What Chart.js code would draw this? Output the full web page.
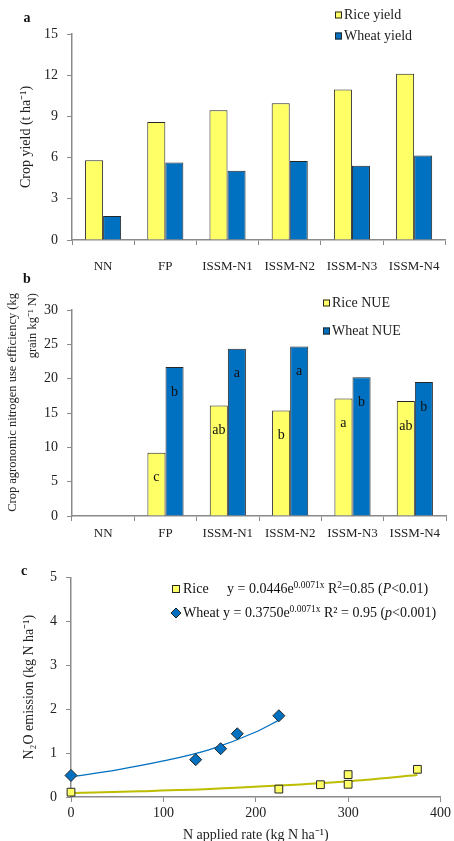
<!DOCTYPE html>
<html>
<head>
<meta charset="utf-8">
<script src="https://cdn.jsdelivr.net/npm/chart.js@4.4.0/dist/chart.umd.min.js"></script>
<style>
  body { margin: 0; background: #fff; width: 454px; height: 841px; position: relative; overflow: hidden; }
  .panel { position: absolute; left: 0; width: 454px; }
</style>
</head>
<body>
<div class="panel" style="top:0;height:280px"><canvas id="yieldChart"></canvas></div>
<div class="panel" style="top:266px;height:294px"><canvas id="nueChart"></canvas></div>
<div class="panel" style="top:560px;height:284px"><canvas id="n2oChart"></canvas></div>
<script>
const treatments = ["NN", "FP", "ISSM-N1", "ISSM-N2", "ISSM-N3", "ISSM-N4"];
const riceYield = [5.8, 8.6, 9.45, 9.95, 10.95, 12.1];
const wheatYield = [1.75, 5.65, 5.05, 5.75, 5.4, 6.15];
const riceNue = [null, 9.2, 16.1, 15.35, 17.1, 16.75];
const wheatNue = [null, 21.7, 24.35, 24.7, 20.2, 19.5];
const riceLetters = ["", "c", "ab", "b", "a", "ab"];
const wheatLetters = ["", "b", "a", "a", "b", "b"];
const riceRate = [0, 225, 270, 300, 300, 375];
const riceN2O = [0.11, 0.18, 0.28, 0.51, 0.29, 0.63];
const wheatRate = [0, 135, 162, 180, 225];
const wheatN2O = [0.49, 0.85, 1.1, 1.44, 1.85];
// trend curves
const riceFitRate = [0, 75, 150, 225, 300, 375];
const riceFitN2O = [0.09, 0.13, 0.18, 0.26, 0.36, 0.5];
const wheatFitRate = [0, 50, 100, 150, 200, 225];
const wheatFitN2O = [0.46, 0.62, 0.82, 1.08, 1.48, 1.75];

const serif = "'Liberation Serif', 'Times New Roman', serif";
const axisGray = "#8a8a8a";
const yellow = "#FFFF66";
const blue = "#0070C0";
const edge = "#262626";

Chart.defaults.font.family = serif;
Chart.defaults.color = "#222";
Chart.defaults.animation = false;
Chart.defaults.plugins.legend.display = false;
Chart.defaults.plugins.tooltip.enabled = false;

const toPoints = (xs, ys) => xs.map((x, i) => ({ x: x, y: ys[i] }));

// small legend with square swatches
const swatchLegend = {
  id: "swatchLegend",
  afterDraw(chart, args, opts) {
    const ctx = chart.ctx;
    ctx.save();
    ctx.font = "14px " + serif;
    ctx.textBaseline = "middle";
    chart.data.datasets.forEach((ds, i) => {
      const y = opts.y + i * opts.gap;
      ctx.fillStyle = ds.backgroundColor;
      ctx.fillRect(opts.x, y - 3.5, 7, 7);
      ctx.strokeStyle = edge;
      ctx.lineWidth = 1;
      ctx.strokeRect(opts.x + 0.5, y - 3, 6, 6);
      ctx.fillStyle = "#222";
      ctx.fillText(ds.label, opts.x + 9, y);
    });
    ctx.restore();
  },
};

const panelTag = {
  id: "panelTag",
  afterDraw(chart, args, opts) {
    const ctx = chart.ctx;
    ctx.save();
    ctx.font = "bold 14px " + serif;
    ctx.textAlign = "center";
    ctx.textBaseline = "middle";
    ctx.fillStyle = "#111";
    ctx.fillText(opts.text, opts.x, opts.y);
    ctx.restore();
  },
};

// two-line rotated title, ends flush at the top like the original
const sideTitle = {
  id: "sideTitle",
  afterDraw(chart, args, opts) {
    const ctx = chart.ctx;
    ctx.save();
    ctx.font = "12.5px " + serif;
    ctx.fillStyle = "#222";
    ctx.textAlign = "right";
    ctx.textBaseline = "middle";
    opts.lines.forEach((line, i) => {
      ctx.save();
      ctx.translate(opts.x + i * opts.gap, opts.top);
      ctx.rotate(-Math.PI / 2);
      ctx.fillText(line, 0, 0);
      ctx.restore();
    });
    ctx.restore();
  },
};

const sigLetters = {
  id: "sigLetters",
  afterDatasetsDraw(chart) {
    const ctx = chart.ctx;
    ctx.save();
    ctx.font = "14px " + serif;
    ctx.textAlign = "center";
    ctx.textBaseline = "middle";
    ctx.fillStyle = "#111";
    [riceLetters, wheatLetters].forEach((letters, di) => {
      chart.getDatasetMeta(di).data.forEach((bar, i) => {
        if (!letters[i]) return;
        ctx.fillText(letters[i], bar.x, bar.y + 25);
      });
    });
    ctx.restore();
  },
};

function drawRich(ctx, x, y, parts) {
  parts.forEach((p) => {
    ctx.font = (p.i ? "italic " : "") + (p.s ? "9.5px " : "14px ") + serif;
    ctx.fillText(p.t, x, p.s ? y - 4 : y);
    x += ctx.measureText(p.t).width;
  });
}

const fitLegend = {
  id: "fitLegend",
  afterDraw(chart) {
    const ctx = chart.ctx;
    ctx.save();
    ctx.textBaseline = "middle";
    ctx.lineWidth = 1;
    ctx.strokeStyle = edge;
    // rice square
    ctx.fillStyle = yellow;
    ctx.fillRect(172, 25, 8, 8);
    ctx.strokeRect(172.5, 25.5, 7, 7);
    // wheat diamond
    ctx.fillStyle = blue;
    ctx.beginPath();
    ctx.moveTo(176, 48);
    ctx.lineTo(181, 53);
    ctx.lineTo(176, 58);
    ctx.lineTo(171, 53);
    ctx.closePath();
    ctx.fill();
    ctx.stroke();
    ctx.fillStyle = "#111";
    drawRich(ctx, 183, 29, [{ t: "Rice" }]);
    drawRich(ctx, 183, 53, [{ t: "Wheat" }]);
    drawRich(ctx, 227, 29, [
      { t: "y = 0.0446e" }, { t: "0.0071x", s: true }, { t: " R" }, { t: "2", s: true },
      { t: "=0.85 (" }, { t: "P", i: true }, { t: "<0.01)" },
    ]);
    drawRich(ctx, 223, 53, [
      { t: "y = 0.3750e" }, { t: "0.0071x", s: true }, { t: " R² = 0.95 (" },
      { t: "p", i: true }, { t: "<0.001)" },
    ]);
    ctx.restore();
  },
};

const baseGrid = { drawOnChartArea: false, tickLength: 5, color: axisGray, lineWidth: 1 };
const baseBorder = { color: axisGray, width: 1.5 };

// a: crop yield
const chartYield = new Chart(document.getElementById("yieldChart"), {
  type: "bar",
  data: {
    labels: treatments,
    datasets: [
      { label: "Rice yield", data: riceYield, backgroundColor: yellow, borderColor: edge, borderWidth: 1 },
      { label: "Wheat yield", data: wheatYield, backgroundColor: blue, borderColor: edge, borderWidth: 1 },
    ],
  },
  options: {
    responsive: true,
    maintainAspectRatio: false,
    layout: { padding: { top: 34, right: 7, left: 0, bottom: 0 } },
    datasets: { bar: { categoryPercentage: 0.58, barPercentage: 1 } },
    scales: {
      x: {
        ticks: { padding: 14, font: { size: 13 } },
        grid: Object.assign({ offset: true }, baseGrid),
        border: baseBorder,
        afterFit: (s) => { s.height = 40; },
      },
      y: {
        min: 0,
        max: 15,
        ticks: { stepSize: 3, padding: 9, font: { size: 14 } },
        grid: baseGrid,
        border: baseBorder,
        title: { display: true, text: "Crop yield (t ha⁻¹)", font: { size: 14 }, padding: { top: 18 } },
        afterFit: (s) => { s.width = 72; },
      },
    },
    plugins: {
      swatchLegend: { x: 335, y: 15, gap: 21 },
      panelTag: { text: "a", x: 27, y: 18 },
    },
  },
  plugins: [swatchLegend, panelTag],
});

// b: agronomic N use efficiency
const chartNue = new Chart(document.getElementById("nueChart"), {
  type: "bar",
  data: {
    labels: treatments,
    datasets: [
      { label: "Rice NUE", data: riceNue, backgroundColor: yellow, borderColor: edge, borderWidth: 1 },
      { label: "Wheat NUE", data: wheatNue, backgroundColor: blue, borderColor: edge, borderWidth: 1 },
    ],
  },
  options: {
    responsive: true,
    maintainAspectRatio: false,
    layout: { padding: { top: 44, right: 8, left: 0, bottom: 0 } },
    datasets: { bar: { categoryPercentage: 0.58, barPercentage: 1 } },
    scales: {
      x: {
        ticks: { padding: 5, font: { size: 13 } },
        grid: Object.assign({ offset: true }, baseGrid),
        border: baseBorder,
        afterFit: (s) => { s.height = 44; },
      },
      y: {
        min: 0,
        max: 30,
        ticks: { stepSize: 5, padding: 9, font: { size: 14 } },
        grid: baseGrid,
        border: baseBorder,
        afterFit: (s) => { s.width = 72; },
      },
    },
    plugins: {
      swatchLegend: { x: 323, y: 37, gap: 28 },
      panelTag: { text: "b", x: 27, y: 13 },
      sideTitle: { lines: ["Crop agronomic nitrogen use efficiency (kg", "grain kg⁻¹ N)"], x: 13, gap: 20, top: 27 },
    },
  },
  plugins: [swatchLegend, panelTag, sigLetters, sideTitle],
});

// c: N2O emission vs N rate
const chartN2O = new Chart(document.getElementById("n2oChart"), {
  type: "scatter",
  data: {
    datasets: [
      {
        label: "Rice", data: toPoints(riceRate, riceN2O), pointStyle: "rect", pointRadius: 5.5,
        backgroundColor: yellow, borderColor: edge, borderWidth: 1, clip: false,
      },
      {
        label: "Wheat", data: toPoints(wheatRate, wheatN2O), pointStyle: "rectRot", pointRadius: 6,
        backgroundColor: blue, borderColor: edge, borderWidth: 1, clip: false,
      },
      {
        label: "Rice fit", data: toPoints(riceFitRate, riceFitN2O), showLine: true, pointRadius: 0,
        borderColor: "#BDBD00", borderWidth: 2, cubicInterpolationMode: "monotone",
      },
      {
        label: "Wheat fit", data: toPoints(wheatFitRate, wheatFitN2O), showLine: true, pointRadius: 0,
        borderColor: blue, borderWidth: 1.3, cubicInterpolationMode: "monotone",
      },
    ],
  },
  options: {
    responsive: true,
    maintainAspectRatio: false,
    layout: { padding: { top: 11, right: 9, left: 0, bottom: 0 } },
    scales: {
      x: {
        type: "linear",
        min: 0,
        max: 400,
        ticks: { stepSize: 100, padding: 3, font: { size: 14 } },
        grid: baseGrid,
        border: baseBorder,
        title: { display: true, text: "N applied rate (kg N ha⁻¹)", font: { size: 14 }, padding: { top: 2, bottom: 0 } },
        afterFit: (s) => { s.height = 47; },
      },
      y: {
        min: 0,
        max: 5,
        ticks: { stepSize: 1, padding: 9, font: { size: 14 } },
        grid: baseGrid,
        border: baseBorder,
        title: { display: true, text: "N₂O emission (kg N ha⁻¹)", font: { size: 14 }, padding: { top: 21 } },
        afterFit: (s) => { s.width = 71; },
      },
    },
    plugins: {
      panelTag: { text: "c", x: 24, y: 11 },
    },
  },
  plugins: [fitLegend, panelTag],
});
</script>
</body>
</html>
